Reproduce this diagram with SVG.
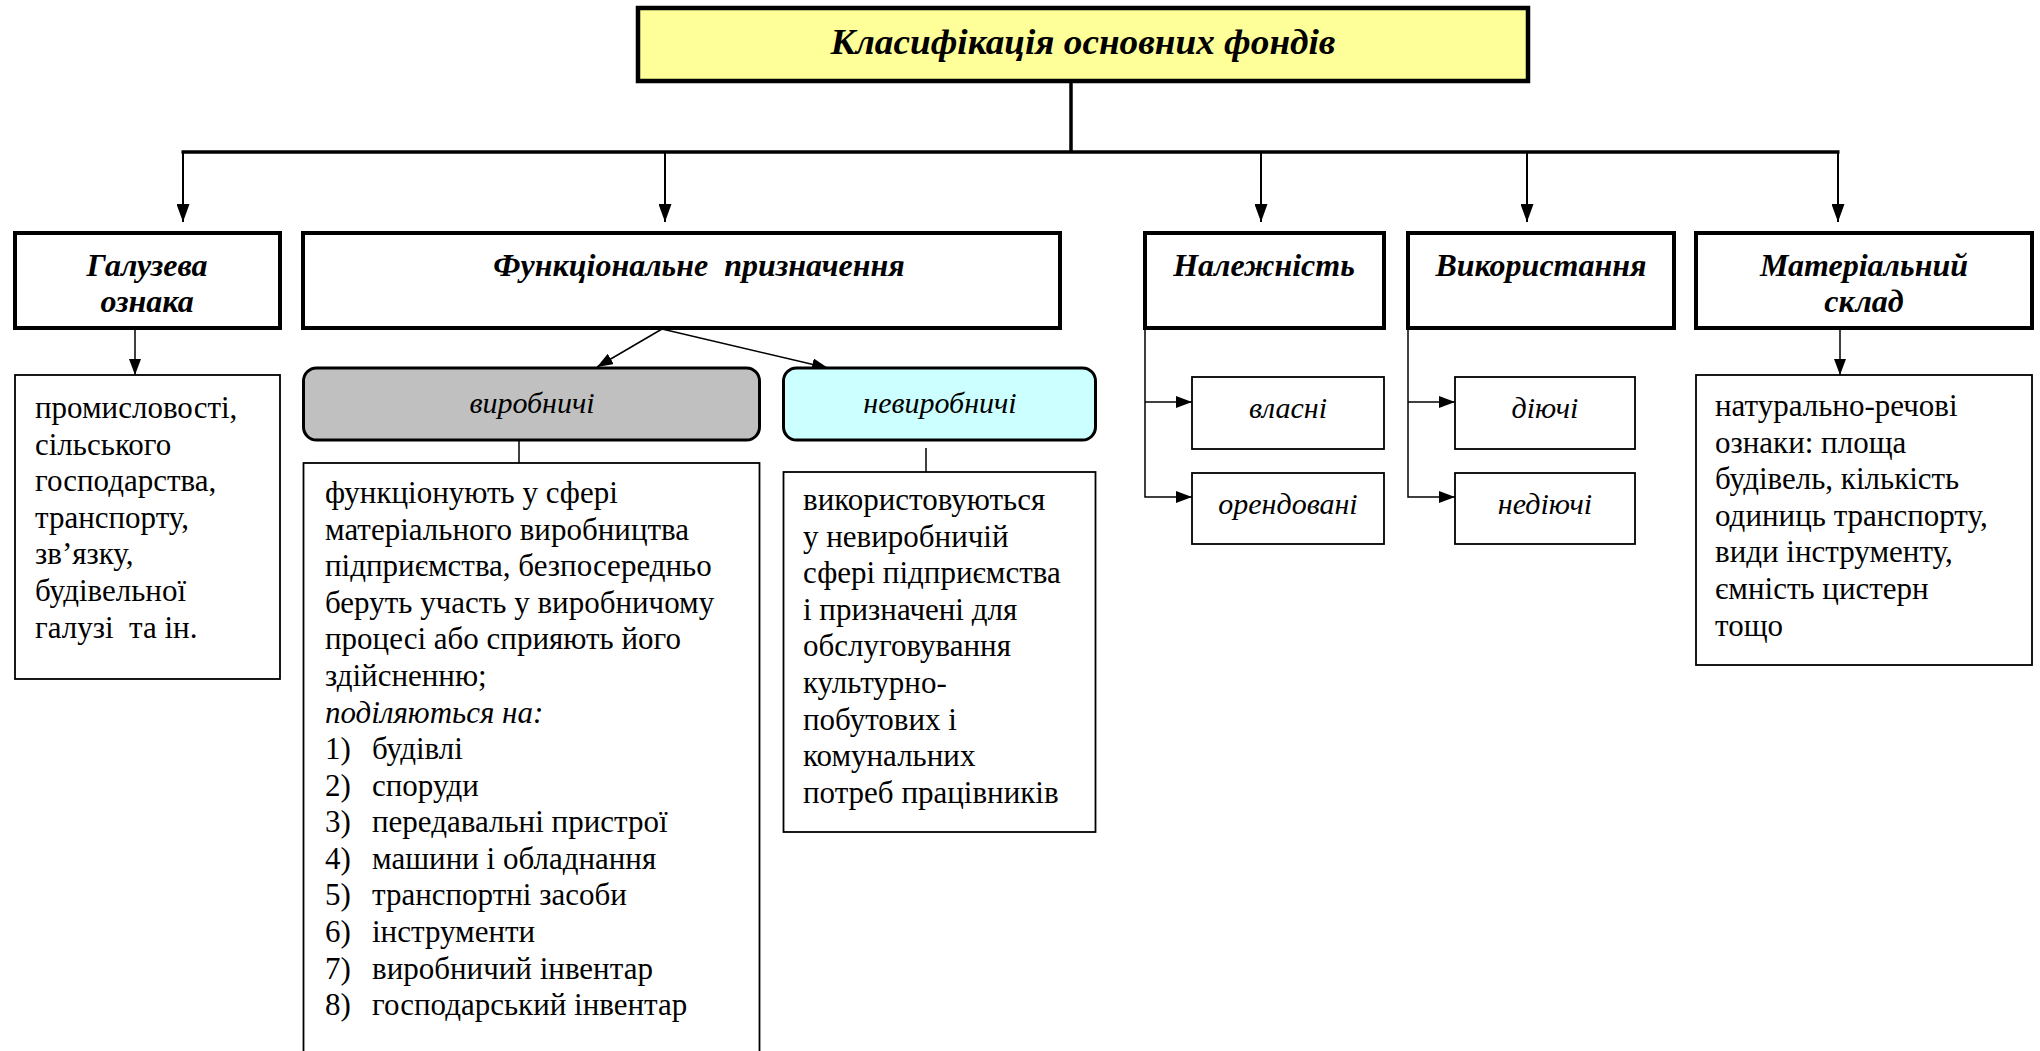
<svg xmlns="http://www.w3.org/2000/svg" width="2040" height="1051" viewBox="0 0 2040 1051" font-family="Liberation Serif" xml:lang="uk">
<defs>
<marker id="arr" viewBox="0 0 10 10" refX="10" refY="5" markerWidth="18" markerHeight="13" markerUnits="userSpaceOnUse" orient="auto" preserveAspectRatio="none"><path d="M0,0 L10,5 L0,10 z" fill="#000"/></marker>
<marker id="arrs" viewBox="0 0 10 10" refX="10" refY="5" markerWidth="16" markerHeight="12" markerUnits="userSpaceOnUse" orient="auto" preserveAspectRatio="none"><path d="M0,0 L10,5 L0,10 z" fill="#000"/></marker>
</defs>
<rect width="2040" height="1051" fill="#fff"/>

<g id="connectors" fill="none" stroke="#000">
<g stroke-width="3.5">
<line x1="1071" y1="81" x2="1071" y2="152"/>
<line x1="181.5" y1="152" x2="1839.5" y2="152"/>
</g>
<g stroke-width="2" marker-end="url(#arr)">
<line x1="183" y1="152" x2="183" y2="222"/>
<line x1="665" y1="152" x2="665" y2="222"/>
<line x1="1261" y1="152" x2="1261" y2="222"/>
<line x1="1527" y1="152" x2="1527" y2="222"/>
<line x1="1838" y1="152" x2="1838" y2="222"/>
</g>
<g stroke-width="1.5">
<line x1="135" y1="328" x2="135" y2="375" marker-end="url(#arrs)"/>
<line x1="1840" y1="328" x2="1840" y2="375" marker-end="url(#arrs)"/>
<line x1="662" y1="329" x2="597" y2="367" marker-end="url(#arrs)"/>
<line x1="662" y1="329" x2="828" y2="368" marker-end="url(#arrs)"/>
<line x1="519" y1="440" x2="519" y2="463"/>
<line x1="926" y1="448" x2="926" y2="472"/>
<polyline points="1145,328 1145,497 1192,497" marker-end="url(#arrs)"/>
<line x1="1145" y1="402" x2="1192" y2="402" marker-end="url(#arrs)"/>
<polyline points="1408,328 1408,497 1455,497" marker-end="url(#arrs)"/>
<line x1="1408" y1="402" x2="1455" y2="402" marker-end="url(#arrs)"/>
</g>
</g>

<g id="title" font-family="Liberation Serif">
<rect x="638" y="8" width="890" height="73" fill="#FFFF99" stroke="#000" stroke-width="4.5"/>
<text x="1083" y="54" font-family="Liberation Serif" style="font-family:'Liberation Serif'" font-size="35" font-weight="bold" font-style="italic" text-anchor="middle" textLength="505" lengthAdjust="spacingAndGlyphs">Класифікація основних фондів</text>
</g>

<g id="galuzeva" font-family="Liberation Serif">
<rect x="15" y="233" width="265" height="95" fill="#fff" stroke="#000" stroke-width="4"/>
<text x="147" y="276" font-family="Liberation Serif" style="font-family:'Liberation Serif'" font-size="32" font-weight="bold" font-style="italic" text-anchor="middle">Галузева</text>
<text x="147" y="312" font-family="Liberation Serif" style="font-family:'Liberation Serif'" font-size="32" font-weight="bold" font-style="italic" text-anchor="middle">ознака</text>
</g>
<g id="galuzeva-text" font-family="Liberation Serif">
<rect x="15" y="375" width="265" height="304" fill="#fff" stroke="#000" stroke-width="1.8"/>
<text x="35" y="418" font-family="Liberation Serif" style="font-family:'Liberation Serif'" font-size="31" xml:space="preserve">промисловості,<tspan x="35" dy="36.6">сільського</tspan><tspan x="35" dy="36.6">господарства,</tspan><tspan x="35" dy="36.6">транспорту,</tspan><tspan x="35" dy="36.6">зв’язку,</tspan><tspan x="35" dy="36.6">будівельної</tspan><tspan x="35" dy="36.6">галузі  та ін.</tspan></text>
</g>

<g id="funktsionalne" font-family="Liberation Serif">
<rect x="303" y="233" width="757" height="95" fill="#fff" stroke="#000" stroke-width="4"/>
<text x="699" y="276" font-family="Liberation Serif" style="font-family:'Liberation Serif'" font-size="32" font-weight="bold" font-style="italic" text-anchor="middle" xml:space="preserve">Функціональне  призначення</text>
</g>

<g id="vyrobnychi" font-family="Liberation Serif">
<rect x="303.5" y="368" width="456" height="72" rx="13" fill="#C0C0C0" stroke="#000" stroke-width="3"/>
<text x="532" y="413" font-family="Liberation Serif" style="font-family:'Liberation Serif'" font-size="30" font-style="italic" text-anchor="middle">виробничі</text>
</g>
<g id="vyrobnychi-text" font-family="Liberation Serif">
<rect x="303.5" y="463" width="456" height="620" fill="#fff" stroke="#000" stroke-width="1.8"/>
<text x="325" y="503" font-family="Liberation Serif" style="font-family:'Liberation Serif'" font-size="31">функціонують у сфері<tspan x="325" dy="36.6">матеріального виробництва</tspan><tspan x="325" dy="36.6">підприємства, безпосередньо</tspan><tspan x="325" dy="36.6">беруть участь у виробничому</tspan><tspan x="325" dy="36.6">процесі або сприяють його</tspan><tspan x="325" dy="36.6">здійсненню;</tspan><tspan x="325" dy="36.6" font-style="italic">поділяються на:</tspan></text>
<text x="325" y="759" font-family="Liberation Serif" style="font-family:'Liberation Serif'" font-size="31">1)<tspan x="325" dy="36.6">2)</tspan><tspan x="325" dy="36.6">3)</tspan><tspan x="325" dy="36.6">4)</tspan><tspan x="325" dy="36.6">5)</tspan><tspan x="325" dy="36.6">6)</tspan><tspan x="325" dy="36.6">7)</tspan><tspan x="325" dy="36.6">8)</tspan></text>
<text x="372" y="759" font-family="Liberation Serif" style="font-family:'Liberation Serif'" font-size="31">будівлі<tspan x="372" dy="36.6">споруди</tspan><tspan x="372" dy="36.6">передавальні пристрої</tspan><tspan x="372" dy="36.6">машини і обладнання</tspan><tspan x="372" dy="36.6">транспортні засоби</tspan><tspan x="372" dy="36.6">інструменти</tspan><tspan x="372" dy="36.6">виробничий інвентар</tspan><tspan x="372" dy="36.6">господарський інвентар</tspan></text>
</g>

<g id="nevyrobnychi" font-family="Liberation Serif">
<rect x="783.5" y="368" width="312" height="72" rx="13" fill="#CCFFFF" stroke="#000" stroke-width="3"/>
<text x="940" y="413" font-family="Liberation Serif" style="font-family:'Liberation Serif'" font-size="30" font-style="italic" text-anchor="middle">невиробничі</text>
</g>
<g id="nevyrobnychi-text" font-family="Liberation Serif">
<rect x="783.5" y="472" width="312" height="360" fill="#fff" stroke="#000" stroke-width="1.8"/>
<text x="803" y="510" font-family="Liberation Serif" style="font-family:'Liberation Serif'" font-size="31">використовуються<tspan x="803" dy="36.6">у невиробничій</tspan><tspan x="803" dy="36.6">сфері підприємства</tspan><tspan x="803" dy="36.6">і призначені для</tspan><tspan x="803" dy="36.6">обслуговування</tspan><tspan x="803" dy="36.6">культурно-</tspan><tspan x="803" dy="36.6">побутових і</tspan><tspan x="803" dy="36.6">комунальних</tspan><tspan x="803" dy="36.6">потреб працівників</tspan></text>
</g>

<g id="nalezhnist" font-family="Liberation Serif">
<rect x="1145" y="233" width="239" height="95" fill="#fff" stroke="#000" stroke-width="4"/>
<text x="1264" y="276" font-family="Liberation Serif" style="font-family:'Liberation Serif'" font-size="32" font-weight="bold" font-style="italic" text-anchor="middle">Належність</text>
</g>
<g id="vlasni" font-family="Liberation Serif">
<rect x="1192" y="377" width="192" height="72" fill="#fff" stroke="#000" stroke-width="1.8"/>
<text x="1288" y="418" font-family="Liberation Serif" style="font-family:'Liberation Serif'" font-size="30" font-style="italic" text-anchor="middle">власні</text>
</g>
<g id="orendovani" font-family="Liberation Serif">
<rect x="1192" y="473" width="192" height="71" fill="#fff" stroke="#000" stroke-width="1.8"/>
<text x="1288" y="514" font-family="Liberation Serif" style="font-family:'Liberation Serif'" font-size="30" font-style="italic" text-anchor="middle">орендовані</text>
</g>

<g id="vykorystannia" font-family="Liberation Serif">
<rect x="1408" y="233" width="266" height="95" fill="#fff" stroke="#000" stroke-width="4"/>
<text x="1541" y="276" font-family="Liberation Serif" style="font-family:'Liberation Serif'" font-size="32" font-weight="bold" font-style="italic" text-anchor="middle">Використання</text>
</g>
<g id="diiuchi" font-family="Liberation Serif">
<rect x="1455" y="377" width="180" height="72" fill="#fff" stroke="#000" stroke-width="1.8"/>
<text x="1545" y="418" font-family="Liberation Serif" style="font-family:'Liberation Serif'" font-size="30" font-style="italic" text-anchor="middle">діючі</text>
</g>
<g id="nediiuchi" font-family="Liberation Serif">
<rect x="1455" y="473" width="180" height="71" fill="#fff" stroke="#000" stroke-width="1.8"/>
<text x="1545" y="514" font-family="Liberation Serif" style="font-family:'Liberation Serif'" font-size="30" font-style="italic" text-anchor="middle">недіючі</text>
</g>

<g id="materialnyi" font-family="Liberation Serif">
<rect x="1696" y="233" width="336" height="95" fill="#fff" stroke="#000" stroke-width="4"/>
<text x="1864" y="276" font-family="Liberation Serif" style="font-family:'Liberation Serif'" font-size="32" font-weight="bold" font-style="italic" text-anchor="middle">Матеріальний</text>
<text x="1864" y="312" font-family="Liberation Serif" style="font-family:'Liberation Serif'" font-size="32" font-weight="bold" font-style="italic" text-anchor="middle">склад</text>
</g>
<g id="materialnyi-text" font-family="Liberation Serif">
<rect x="1696" y="375" width="336" height="290" fill="#fff" stroke="#000" stroke-width="1.8"/>
<text x="1715" y="416" font-family="Liberation Serif" style="font-family:'Liberation Serif'" font-size="31">натурально-речові<tspan x="1715" dy="36.6">ознаки: площа</tspan><tspan x="1715" dy="36.6">будівель, кількість</tspan><tspan x="1715" dy="36.6">одиниць транспорту,</tspan><tspan x="1715" dy="36.6">види інструменту,</tspan><tspan x="1715" dy="36.6">ємність цистерн</tspan><tspan x="1715" dy="36.6">тощо</tspan></text>
</g>
</svg>
